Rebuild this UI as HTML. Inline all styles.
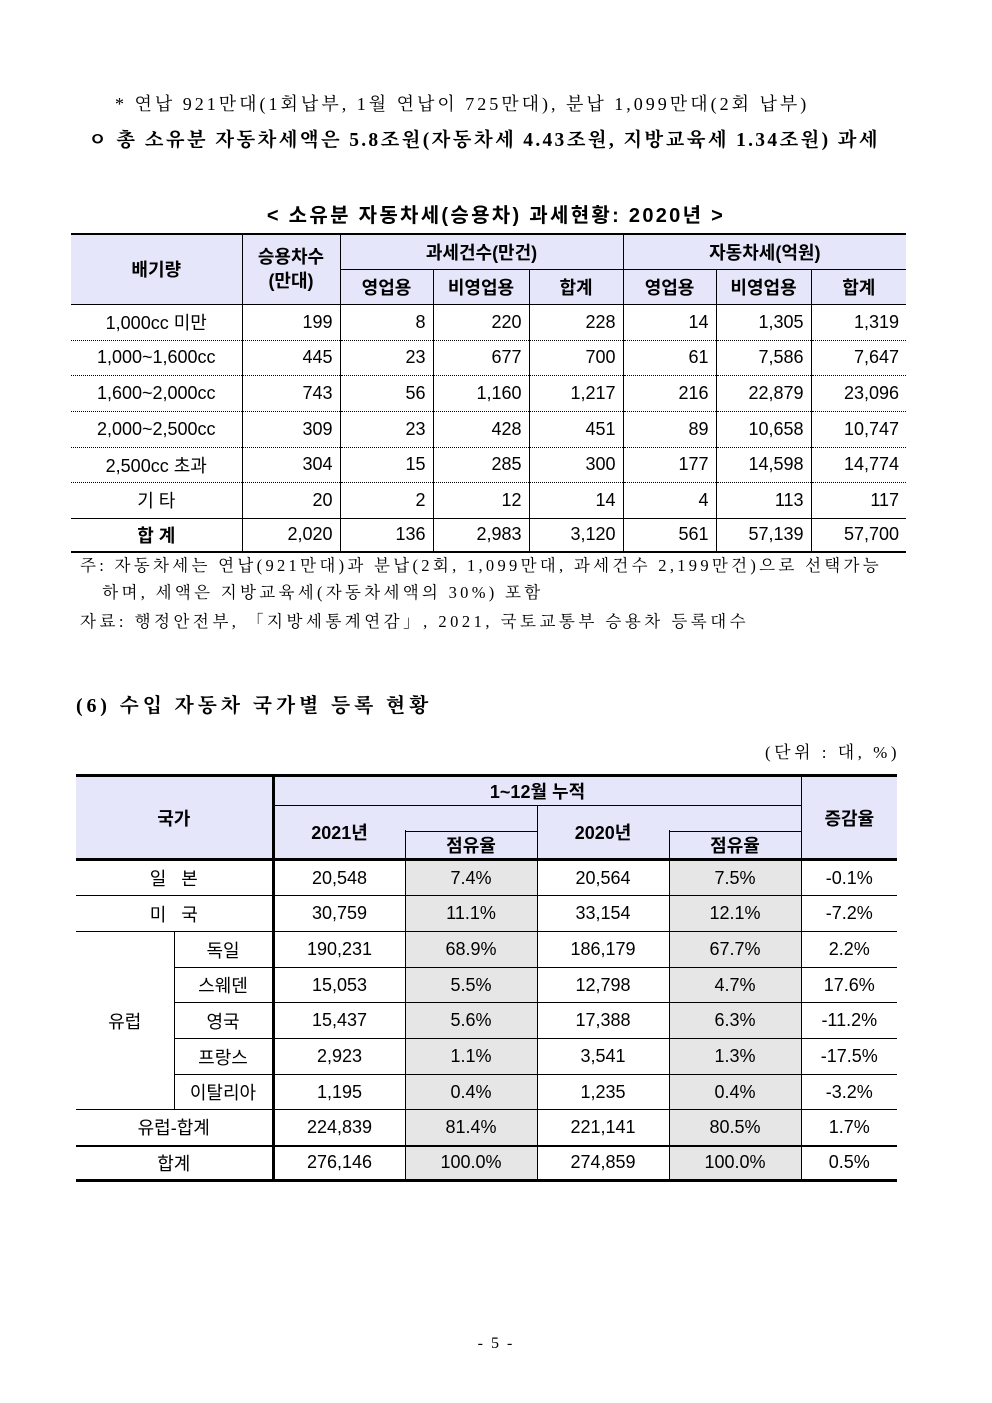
<!DOCTYPE html>
<html><head><meta charset="utf-8">
<style>
body{margin:0;width:992px;height:1403px;background:#fff;position:relative;overflow:hidden;font-family:"Liberation Sans","Noto Sans CJK KR",sans-serif;color:#000}
.t{position:absolute;white-space:nowrap}
.serif{font-family:"Liberation Serif","Noto Serif CJK KR",serif}
table{position:absolute;border-collapse:collapse;table-layout:fixed;font-size:18px}
td{padding:0 7px;overflow:hidden;white-space:nowrap}
.h{background:#e6e6fa;font-weight:bold;text-align:center}
.r{text-align:right}.c{text-align:center}
#t1 td{border-left:1px solid #000;border-right:1px solid #000;border-bottom:1px dotted #000}
#t1 tr.hd td{border-bottom:1px solid #000}
#t1 td:first-child{border-left:none}#t1 td:last-child{border-right:none}
#t2 td{border:1px solid #000;text-align:center;padding:0}
#t2 td.g{background:#e6e6e6}
#t2 td.first{border-left:none}#t2 td.last{border-right:none}
.cover{position:absolute;background:#e6e6fa;width:4px;height:24px;top:806px}
</style></head><body>
<div class="t serif" style="left:115px;top:90px;font-size:18px;letter-spacing:3px">* 연납 921만대(1회납부, 1월 연납이 725만대), 분납 1,099만대(2회 납부)</div>
<div class="t serif" style="left:88px;top:124px;font-size:19.5px;font-weight:bold;letter-spacing:2.3px">ㅇ 총 소유분 자동차세액은 5.8조원(자동차세 4.43조원, 지방교육세 1.34조원) 과세</div>
<div class="t" style="left:0;width:992px;text-align:center;top:199px;font-size:20px;font-weight:bold;letter-spacing:2.3px">&lt; 소유분 자동차세(승용차) 과세현황: 2020년 &gt;</div>

<table id="t1" style="left:71px;top:233px;width:835px;border-top:2px solid #000;border-bottom:2px solid #000">
<colgroup><col style="width:171px"><col style="width:98px"><col style="width:93px"><col style="width:96px"><col style="width:94px"><col style="width:93px"><col style="width:95px"><col style="width:95px"></colgroup>
<tr class="hd" style="height:35px"><td class="h" rowspan="2">배기량</td><td class="h" rowspan="2" style="line-height:1.35">승용차수<br>(만대)</td><td class="h" colspan="3">과세건수(만건)</td><td class="h" colspan="3">자동차세(억원)</td></tr>
<tr class="hd" style="height:35px"><td class="h">영업용</td><td class="h">비영업용</td><td class="h">합계</td><td class="h">영업용</td><td class="h">비영업용</td><td class="h">합계</td></tr>
<tr style="height:36px"><td class="c">1,000cc 미만</td><td class="r">199</td><td class="r">8</td><td class="r">220</td><td class="r">228</td><td class="r">14</td><td class="r">1,305</td><td class="r">1,319</td></tr>
<tr style="height:35px"><td class="c">1,000~1,600cc</td><td class="r">445</td><td class="r">23</td><td class="r">677</td><td class="r">700</td><td class="r">61</td><td class="r">7,586</td><td class="r">7,647</td></tr>
<tr style="height:36px"><td class="c">1,600~2,000cc</td><td class="r">743</td><td class="r">56</td><td class="r">1,160</td><td class="r">1,217</td><td class="r">216</td><td class="r">22,879</td><td class="r">23,096</td></tr>
<tr style="height:36px"><td class="c">2,000~2,500cc</td><td class="r">309</td><td class="r">23</td><td class="r">428</td><td class="r">451</td><td class="r">89</td><td class="r">10,658</td><td class="r">10,747</td></tr>
<tr style="height:35px"><td class="c">2,500cc 초과</td><td class="r">304</td><td class="r">15</td><td class="r">285</td><td class="r">300</td><td class="r">177</td><td class="r">14,598</td><td class="r">14,774</td></tr>
<tr style="height:36px"><td class="c">기 타</td><td class="r">20</td><td class="r">2</td><td class="r">12</td><td class="r">14</td><td class="r">4</td><td class="r">113</td><td class="r">117</td></tr>
<tr style="height:34px"><td class="c" style="font-weight:bold;border-top:1px solid #000">합 계</td><td class="r" style="border-top:1px solid #000">2,020</td><td class="r" style="border-top:1px solid #000">136</td><td class="r" style="border-top:1px solid #000">2,983</td><td class="r" style="border-top:1px solid #000">3,120</td><td class="r" style="border-top:1px solid #000">561</td><td class="r" style="border-top:1px solid #000">57,139</td><td class="r" style="border-top:1px solid #000">57,700</td></tr>
</table>

<div class="t serif" style="left:80px;top:552px;font-size:16.5px;line-height:27px;letter-spacing:3.3px">주: 자동차세는 연납(921만대)과 분납(2회, 1,099만대, 과세건수 2,199만건)으로 선택가능<br>&nbsp;&nbsp;&nbsp;하며, 세액은 지방교육세(자동차세액의 30%) 포함</div>
<div class="t serif" style="left:80px;top:608px;font-size:16.5px;letter-spacing:3.5px">자료: 행정안전부, 「지방세통계연감」, 2021, 국토교통부 승용차 등록대수</div>

<div class="t serif" style="left:76px;top:689px;font-size:20px;font-weight:bold;letter-spacing:3.8px">(6) 수입 자동차 국가별 등록 현황</div>
<div class="t serif" style="right:92px;top:738px;font-size:17px;letter-spacing:3.5px">(단위 : 대, %)</div>

<table id="t2" style="left:76px;top:774px;width:821px;border-top:3px solid #000;border-bottom:3px solid #000">
<colgroup><col style="width:98px"><col style="width:99px"><col style="width:132px"><col style="width:132px"><col style="width:132px"><col style="width:132px"><col style="width:96px"></colgroup>
<tr style="height:30px"><td class="h first" colspan="2" rowspan="3" style="border-right:3px solid #000;border-bottom:3px solid #000">국가</td><td class="h" colspan="4">1~12월 누적</td><td class="h last" rowspan="3" style="border-bottom:3px solid #000">증감율</td></tr>
<tr style="height:26px"><td class="h" rowspan="2" style="border-bottom:3px solid #000">2021년</td><td class="h"></td><td class="h" rowspan="2" style="border-bottom:3px solid #000">2020년</td><td class="h"></td></tr>
<tr style="height:26px"><td class="h" style="border-bottom:3px solid #000">점유율</td><td class="h" style="border-bottom:3px solid #000">점유율</td></tr>
<tr style="height:36px"><td class="first" colspan="2" style="border-right:3px solid #000">일&nbsp;&nbsp;&nbsp;본</td><td>20,548</td><td class="g">7.4%</td><td>20,564</td><td class="g">7.5%</td><td class="last">-0.1%</td></tr>
<tr style="height:36px"><td class="first" colspan="2" style="border-right:3px solid #000">미&nbsp;&nbsp;&nbsp;국</td><td>30,759</td><td class="g">11.1%</td><td>33,154</td><td class="g">12.1%</td><td class="last">-7.2%</td></tr>
<tr style="height:36px"><td class="first" rowspan="5">유럽</td><td style="border-right:3px solid #000">독일</td><td>190,231</td><td class="g">68.9%</td><td>186,179</td><td class="g">67.7%</td><td class="last">2.2%</td></tr>
<tr style="height:35px"><td style="border-right:3px solid #000">스웨덴</td><td>15,053</td><td class="g">5.5%</td><td>12,798</td><td class="g">4.7%</td><td class="last">17.6%</td></tr>
<tr style="height:36px"><td style="border-right:3px solid #000">영국</td><td>15,437</td><td class="g">5.6%</td><td>17,388</td><td class="g">6.3%</td><td class="last">-11.2%</td></tr>
<tr style="height:36px"><td style="border-right:3px solid #000">프랑스</td><td>2,923</td><td class="g">1.1%</td><td>3,541</td><td class="g">1.3%</td><td class="last">-17.5%</td></tr>
<tr style="height:35px"><td style="border-right:3px solid #000">이탈리아</td><td>1,195</td><td class="g">0.4%</td><td>1,235</td><td class="g">0.4%</td><td class="last">-3.2%</td></tr>
<tr style="height:36px"><td class="first" colspan="2" style="border-right:3px solid #000;border-bottom:2px solid #000">유럽-합계</td><td style="border-bottom:2px solid #000">224,839</td><td class="g" style="border-bottom:2px solid #000">81.4%</td><td style="border-bottom:2px solid #000">221,141</td><td class="g" style="border-bottom:2px solid #000">80.5%</td><td class="last" style="border-bottom:2px solid #000">1.7%</td></tr>
<tr style="height:35px"><td class="first" colspan="2" style="border-right:3px solid #000">합계</td><td>276,146</td><td class="g">100.0%</td><td>274,859</td><td class="g">100.0%</td><td class="last">0.5%</td></tr>
</table>
<div class="cover" style="left:403px"></div>
<div class="cover" style="left:667px"></div>

<div class="t serif" style="left:0;width:992px;text-align:center;top:1335px;font-size:16px;letter-spacing:2px">- 5 -</div>
</body></html>
